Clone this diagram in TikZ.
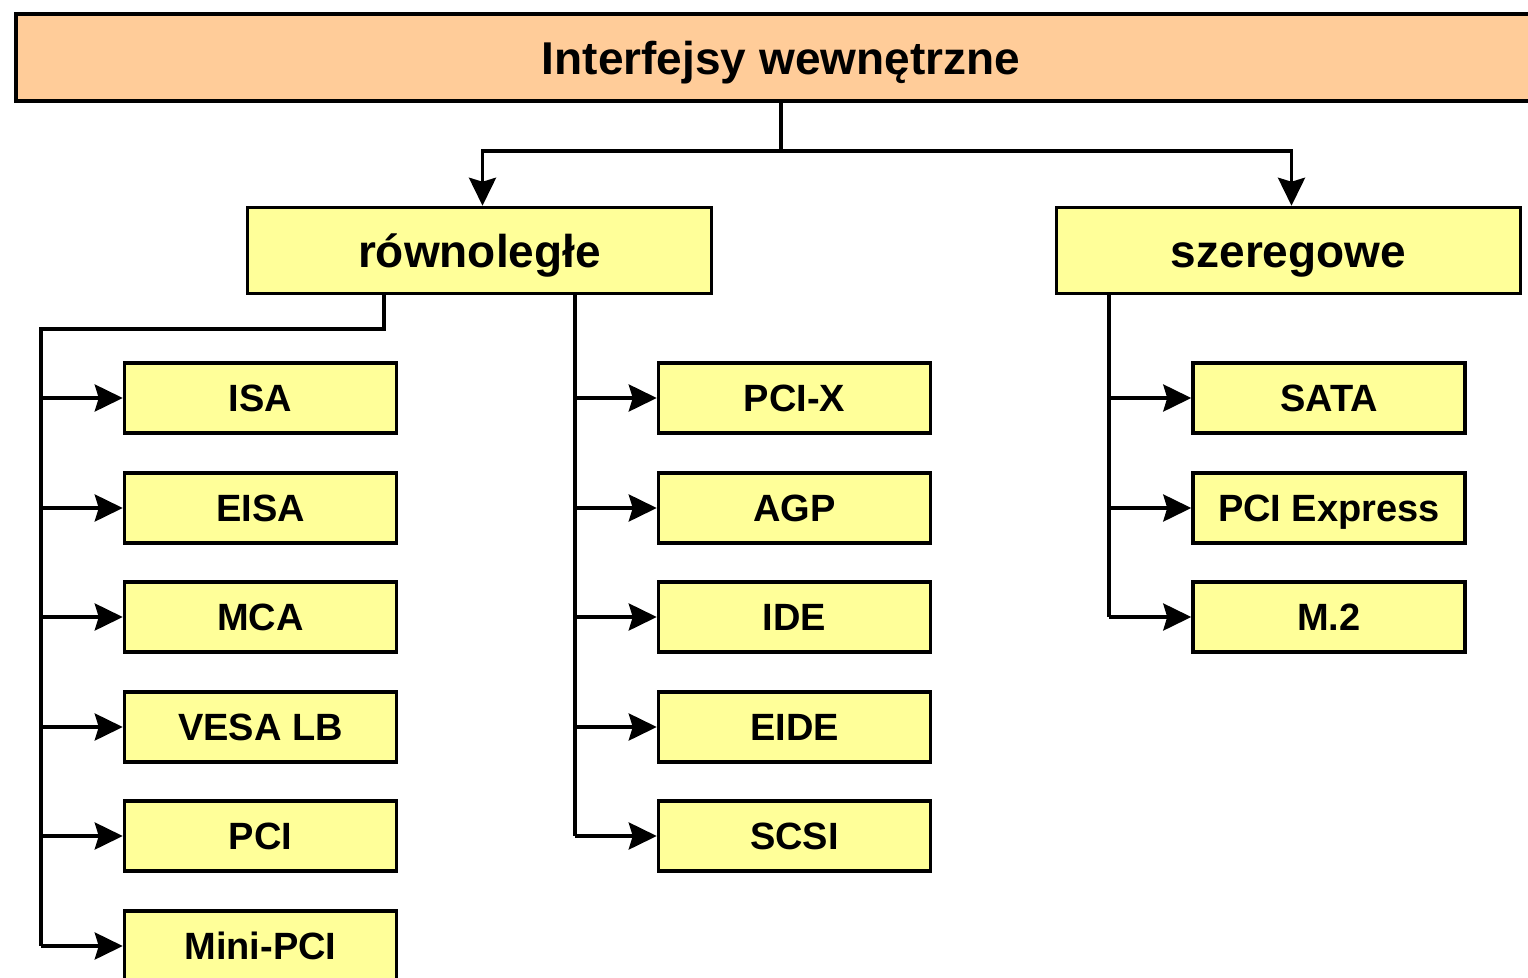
\documentclass[tikz,border=0pt]{standalone}
\usepackage{fontspec}
\setmainfont{Liberation Sans}
\usetikzlibrary{arrows.meta}
\definecolor{peach}{HTML}{FFCC99}
\definecolor{lyellow}{HTML}{FFFF99}
\begin{document}
\begin{tikzpicture}[x=1pt,y=-1pt,
  head/.style={draw=black,line width=3.5pt,fill=lyellow,minimum width=464pt,minimum height=86pt,inner sep=0pt,text height=33pt,text depth=0pt,font=\fontsize{46}{50}\selectfont\bfseries},
  leaf/.style={draw=black,line width=3.5pt,fill=lyellow,minimum width=272pt,minimum height=70pt,inner sep=0pt,text height=27.2pt,text depth=0pt,font=\fontsize{38}{42}\selectfont\bfseries},
  link/.style={line width=3.5pt,line join=miter},
  arr/.style={link,-{Stealth[length=28pt,width=27pt,inset=4pt]}}]
\useasboundingbox (0,0) rectangle (1528,977);
\clip (0,0) rectangle (1528,977);
\node[draw=black,line width=4pt,fill=peach,minimum width=1540pt,minimum height=87pt,inner sep=0pt,anchor=west] (top) at (14,57.5) {};
\node at (781,57.5) [font=\fontsize{46}{50}\selectfont\bfseries,text height=33pt,text depth=0pt,inner sep=0pt] (toptext) {Interfejsy wewnętrzne};
\node[head] (row) at (479.5,250.5) {równoległe};
\node[head] (ser) at (1288.5,250.5) {szeregowe};
% left column
\node[leaf] (isa) at (260.5,398) {ISA};
\node[leaf] (eisa) at (260.5,508) {EISA};
\node[leaf] (mca) at (260.5,617) {MCA};
\node[leaf] (vesa) at (260.5,727) {VESA LB};
\node[leaf] (pci) at (260.5,836) {PCI};
\node[leaf] (mini) at (260.5,946) {Mini-PCI};
% middle column
\node[leaf] (pcix) at (794.5,398) {PCI-X};
\node[leaf] (agp) at (794.5,508) {AGP};
\node[leaf] (ide) at (794.5,617) {IDE};
\node[leaf] (eide) at (794.5,727) {EIDE};
\node[leaf] (scsi) at (794.5,836) {SCSI};
% right column
\node[leaf] (sata) at (1329,398) {SATA};
\node[leaf] (pcie) at (1329,508) {PCI Express};
\node[leaf] (m2) at (1329,617) {M.2};
% top connectors
\coordinate (j) at (781,151);
\draw[link] (top.south -| j) -- (j);
\draw[arr] (j) -| ([xshift=3pt]row.north);
\draw[arr] (j) -| ([xshift=3pt]ser.north);
% left branch
\coordinate (ls) at (384,329);
\coordinate (lb) at (41,329);
\draw[link] (row.south -| ls) -- (ls) -- (lb) -- (lb |- mini.west);
\foreach \n in {isa,eisa,mca,vesa,pci,mini}
  \draw[arr] (lb |- \n.west) -- (\n.west);
% middle branch
\coordinate (mb) at (575,329);
\draw[link] (row.south -| mb) -- (mb |- scsi.west);
\foreach \n in {pcix,agp,ide,eide,scsi}
  \draw[arr] (mb |- \n.west) -- (\n.west);
% right branch
\coordinate (rb) at (1109,329);
\draw[link] (ser.south -| rb) -- (rb |- m2.west);
\foreach \n in {sata,pcie,m2}
  \draw[arr] (rb |- \n.west) -- (\n.west);
\end{tikzpicture}
\end{document}
